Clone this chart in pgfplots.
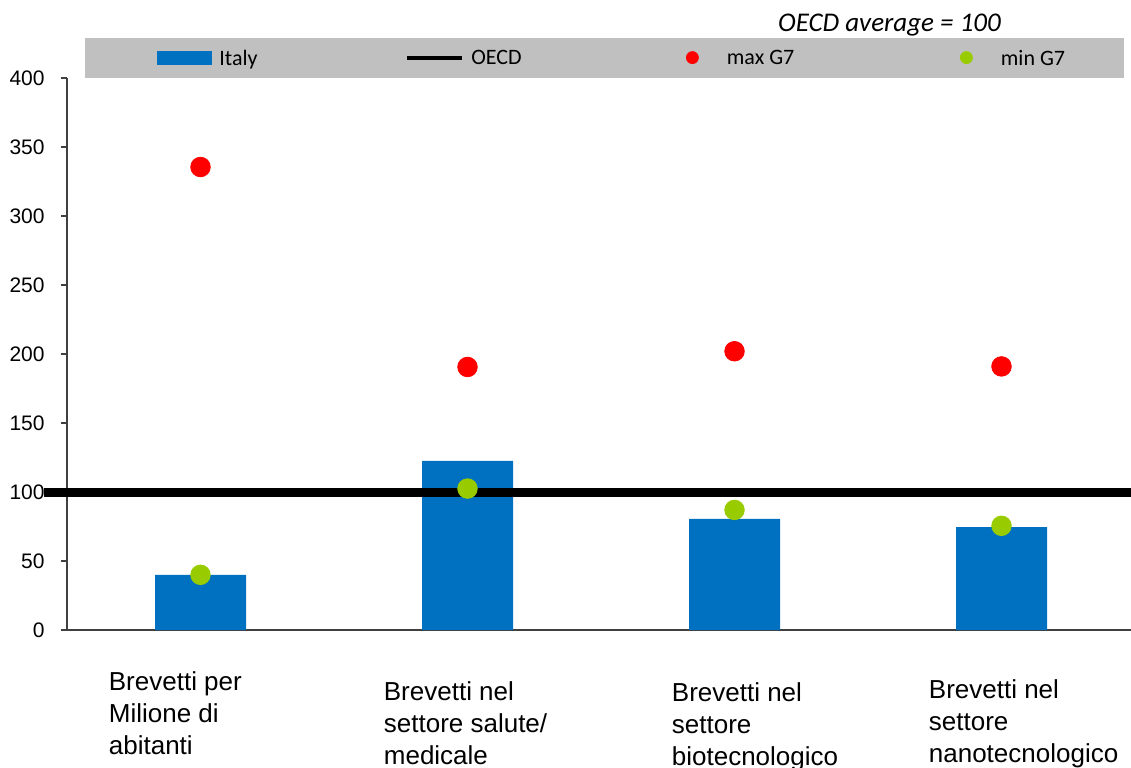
\documentclass[border=0pt]{standalone}
\usepackage{pgfplots}
\pgfplotsset{compat=1.18}
\usepackage{fontspec}
\setmainfont{Liberation Sans}
\newfontfamily\calibri{Carlito}
\definecolor{barblue}{HTML}{0070C0}
\definecolor{dotred}{HTML}{FF0000}
\definecolor{dotgreen}{HTML}{99CC00}
\definecolor{bandgray}{HTML}{C0C0C0}
\definecolor{axisgray}{HTML}{404040}
% category label: extra right shift, extra drop, lines
\newcommand{\lab}[3]{\hspace*{#1}\raisebox{-#2}{\begin{tabular}[t]{@{}l@{}}#3\end{tabular}}}
% legend text: fixed width cell, small gap after the image
\newcommand{\leg}[2]{\makebox[#1][l]{\hspace{3.5pt}\raisebox{-1.5pt}{#2}}}

\begin{document}
\begin{tikzpicture}
\begin{axis}[
  scale only axis, width=532pt, height=276pt,
  anchor=south west, at={(33.5pt,68.5pt)},
  clip=false,
  xmin=-0.5, xmax=3.485, ymin=0, ymax=400,
  axis x line*=bottom, axis y line*=left,
  axis line style={axisgray, line width=0.6pt},
  xtick={0,1,2,3},
  xticklabels={
    {\lab{0pt}{0pt}{Brevetti per\\Milione di\\abitanti}},
    {\lab{4pt}{5pt}{Brevetti nel\\settore salute/\\medicale}},
    {\lab{14.5pt}{5.5pt}{Brevetti nel\\settore\\biotecnologico}},
    {\lab{9.5pt}{4pt}{Brevetti nel\\settore\\nanotecnologico}}},
  major x tick style={draw=none},
  xticklabel style={anchor=base west, inner sep=0pt, xshift=-46pt, yshift=-27pt,
    font=\fontsize{13}{16}\selectfont},
  ytick={0,50,...,400},
  ytick pos=left, tick align=outside, major tick length=3pt,
  major y tick style={axisgray, line width=0.6pt},
  yticklabel style={font=\fontsize{10.5}{12}\selectfont, inner sep=0pt, xshift=-8pt},
  /pgf/number format/assume math mode=true,
  legend columns=4,
  legend style={at={(0.01692,1)}, anchor=south west, fill=bandgray, draw=none,
    inner xsep=36pt, inner ysep=0pt, /tikz/column sep=0pt,
    nodes={inner sep=0pt, minimum height=20pt, font=\calibri\fontsize{11}{12}\selectfont}},
]
\addplot[ybar, bar width=45.5pt, fill=barblue, draw=none,
  legend image code/.code={\path[draw=none] (0pt,0pt) -- (27.5pt,0pt);
    \fill[barblue] (0pt,-3.5pt) rectangle (27.5pt,3.5pt);}]
  coordinates {(0,40) (1,122.5) (2,80.5) (3,74.6)};
\addlegendentry{\leg{96.5pt}{Italy}}
\addplot[black, line width=4.5pt,
  legend image code/.code={\draw[black, line width=2pt] (0pt,0pt) -- (27.5pt,0pt);}]
  coordinates {(-0.588,100) (3.485,100)};
\addlegendentry{\leg{100.25pt}{OECD}}
\addplot[only marks, mark=*, mark size=4.9pt, dotred, mark options={draw=none, fill=dotred},
  legend image code/.code={\path[draw=none] (0pt,0pt) -- (27.5pt,0pt);
    \fill[dotred] (13.75pt,0pt) circle (3pt);}]
  coordinates {(0,335.5) (1,190.6) (2,202) (3,191)};
\addlegendentry{\leg{109.5pt}{max G7}}
\addplot[only marks, mark=*, mark size=4.9pt, dotgreen, mark options={draw=none, fill=dotgreen},
  legend image code/.code={\path[draw=none] (0pt,0pt) -- (27.5pt,0pt);
    \fill[dotgreen] (13.75pt,0pt) circle (3pt);}]
  coordinates {(0,40) (1,102.5) (2,87) (3,75.5)};
\addlegendentry{\leg{29.25pt}{min G7}}
\end{axis}
\node[font=\calibri\itshape\fontsize{13.5}{15}\selectfont] at (444.75pt,371pt) {OECD average = 100};
\pgfresetboundingbox
\useasboundingbox (0,0) rectangle (565.5pt,383.5pt);
\end{tikzpicture}
\end{document}
